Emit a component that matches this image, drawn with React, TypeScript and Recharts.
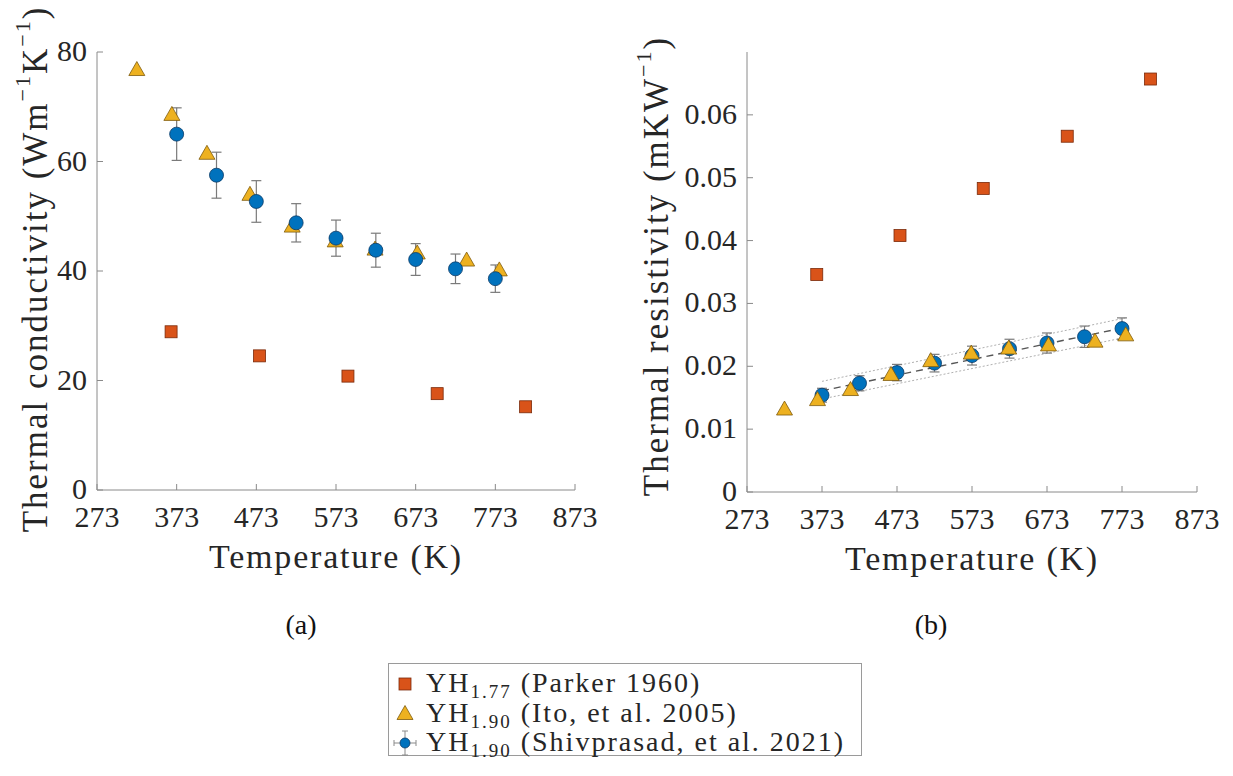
import React from "react";
import { ComposedChart, Scatter, Line, XAxis, YAxis, ErrorBar } from "recharts";

// axis ticks
const tempTicks = [273, 373, 473, 573, 673, 773, 873];
const condTicks = [0, 20, 40, 60, 80];
const resTicks = [0, 0.01, 0.02, 0.03, 0.04, 0.05, 0.06];

// YH1.77 (Parker 1960)
const parkerT = [366, 477, 588, 700, 811];
const parkerCond = [28.9, 24.5, 20.8, 17.6, 15.2];
const parkerRes = [0.0346, 0.0408, 0.0483, 0.0566, 0.0657];

// YH1.90 (Ito, et al. 2005)
const itoT = [323, 367, 411, 465, 518, 572, 622, 675, 737, 778];
const itoCond = [76.8, 68.6, 61.5, 54.0, 48.2, 45.5, 44.0, 43.3, 42.0, 40.2];
const itoRes = [0.0132, 0.0147, 0.0163, 0.0187, 0.0209, 0.0221, 0.0229, 0.0234, 0.024, 0.025];

// YH1.90 (Shivprasad, et al. 2021)
const shivT = [373, 423, 473, 523, 573, 623, 673, 723, 773];
const shivCond = [65.0, 57.5, 52.7, 48.8, 46.0, 43.8, 42.1, 40.4, 38.6];
const shivCondErr = [4.8, 4.2, 3.8, 3.5, 3.3, 3.1, 2.9, 2.7, 2.5];
const shivRes = [0.0154, 0.0173, 0.019, 0.0205, 0.0217, 0.0228, 0.0237, 0.0247, 0.026];
const shivResErr = [0.0011, 0.0012, 0.0013, 0.0014, 0.0015, 0.0015, 0.0016, 0.0017, 0.0017];

// linear fit of resistivity with its bounds
const fitT = [373, 778];
const fitRes = [0.0161, 0.0262];
const fitUpper = [0.0176, 0.0277];
const fitLower = [0.0148, 0.0246];

const ORANGE = "#D95319";
const YELLOW = "#EDB120";
const BLUE = "#0072BD";
const AXIS = "#8a8a8a";
const TEXT = "#262626";
const FONT = "Liberation Serif, Times New Roman, serif";

const pts = (xs: number[], ys: number[], es?: number[]) =>
  xs.map((x, i) => ({ x, y: ys[i], e: es ? es[i] : 0 }));

const Square = (p: any) => (
  <rect x={p.cx - 6} y={p.cy - 6} width={12} height={12} fill={ORANGE} stroke="#7a2a0a" strokeWidth={0.8} />
);
const Triangle = (p: any) => (
  <polygon
    points={`${p.cx},${p.cy - 8} ${p.cx - 8},${p.cy + 6} ${p.cx + 8},${p.cy + 6}`}
    fill={YELLOW}
    stroke="#7d5a0c"
    strokeWidth={0.8}
  />
);
const Circle = (p: any) => <circle cx={p.cx} cy={p.cy} r={7} fill={BLUE} stroke="#0b3a66" strokeWidth={0.8} />;
const Nothing = () => <g />;

const BottomTick = (p: any) => (
  <g>
    <line x1={p.x} x2={p.x} y1={p.y} y2={p.y - 6} stroke={AXIS} />
    <text x={p.x} y={p.y + 37} textAnchor="middle" fontFamily={FONT} fontSize={30} fill={TEXT}>
      {p.payload.value}
    </text>
  </g>
);
const TopTick = (p: any) => <line x1={p.x} x2={p.x} y1={p.y} y2={p.y + 6} stroke={AXIS} />;
const RightTick = (p: any) => <line x1={p.x} x2={p.x - 6} y1={p.y} y2={p.y} stroke={AXIS} />;
const makeLeftTick = (fmt: (v: number) => string) => (p: any) =>
  (
    <g>
      <line x1={p.x} x2={p.x + 6} y1={p.y} y2={p.y} stroke={AXIS} />
      <text x={p.x - 10} y={p.y + 9} textAnchor="end" fontFamily={FONT} fontSize={30} fill={TEXT}>
        {fmt(p.payload.value)}
      </text>
    </g>
  );

const TempTitle = (p: any) => {
  const vb = p.viewBox;
  return (
    <text
      x={vb.x + vb.width / 2}
      y={vb.y + 78}
      textAnchor="middle"
      fontFamily={FONT}
      fontSize={34}
      letterSpacing={1.8}
      fill={TEXT}
    >
      Temperature (K)
    </text>
  );
};

const VTitle = (p: any) => {
  const vb = p.viewBox;
  const cx = vb.x + p.dx;
  const cy = vb.y + vb.height / 2 + (p.dy || 0);
  return (
    <text
      x={cx}
      y={cy}
      transform={`rotate(-90 ${cx} ${cy})`}
      textAnchor="middle"
      dominantBaseline="central"
      fontFamily={FONT}
      fontSize={35}
      letterSpacing={2}
      fill={TEXT}
    >
      {p.children}
    </text>
  );
};

const SUP = 13;

const ConductivityChart = () => (
  <ComposedChart width={600} height={600} margin={{ top: 52, right: 25, bottom: 0, left: 0 }}>
    <XAxis
      dataKey="x"
      type="number"
      domain={[273, 873]}
      ticks={tempTicks}
      interval={0}
      height={110}
      tickSize={0}
      tickMargin={0}
      tickLine={false}
      axisLine={{ stroke: AXIS }}
      tick={BottomTick}
      label={<TempTitle />}
    />
    <XAxis
      xAxisId="top"
      orientation="top"
      type="number"
      domain={[273, 873]}
      ticks={tempTicks}
      interval={0}
      height={0}
      tickSize={0}
      tickMargin={0}
      tickLine={false}
      axisLine={{ stroke: AXIS }}
      tick={TopTick}
    />
    <YAxis
      dataKey="y"
      type="number"
      domain={[0, 80]}
      ticks={condTicks}
      interval={0}
      width={97}
      tickSize={0}
      tickMargin={0}
      tickLine={false}
      axisLine={{ stroke: AXIS }}
      tick={makeLeftTick((v) => String(v))}
      label={
        <VTitle dx={35} dy={-2}>
          Thermal conductivity (Wm
          <tspan dy={-SUP} fontSize={22}>−1</tspan>
          <tspan dy={SUP}>K</tspan>
          <tspan dy={-SUP} fontSize={22}>−1</tspan>
          <tspan dy={SUP}>)</tspan>
        </VTitle>
      }
    />
    <YAxis
      yAxisId="right"
      orientation="right"
      type="number"
      domain={[0, 80]}
      ticks={condTicks}
      interval={0}
      width={0}
      tickSize={0}
      tickMargin={0}
      tickLine={false}
      axisLine={{ stroke: AXIS }}
      tick={RightTick}
    />
    <Scatter data={pts(parkerT, parkerCond)} dataKey="y" shape={Square} isAnimationActive={false} />
    <Scatter data={pts(itoT, itoCond)} dataKey="y" shape={Triangle} isAnimationActive={false} />
    <Scatter data={pts(shivT, shivCond, shivCondErr)} dataKey="y" shape={Circle} isAnimationActive={false} />
    <Scatter data={pts(shivT, shivCond, shivCondErr)} dataKey="y" shape={Nothing} isAnimationActive={false}>
      <ErrorBar dataKey="e" direction="y" width={5} stroke="#7a7a7a" strokeWidth={1.2} />
    </Scatter>
  </ComposedChart>
);

const ResistivityChart = () => (
  <ComposedChart width={605} height={600} margin={{ top: 52, right: 28, bottom: 0, left: 0 }}>
    <XAxis
      dataKey="x"
      type="number"
      domain={[273, 873]}
      ticks={tempTicks}
      interval={0}
      height={108}
      tickSize={0}
      tickMargin={0}
      tickLine={false}
      axisLine={{ stroke: AXIS }}
      tick={BottomTick}
      label={<TempTitle />}
    />
    <XAxis
      xAxisId="top"
      orientation="top"
      type="number"
      domain={[273, 873]}
      ticks={tempTicks}
      interval={0}
      height={0}
      tickSize={0}
      tickMargin={0}
      tickLine={false}
      axisLine={{ stroke: AXIS }}
      tick={TopTick}
    />
    <YAxis
      dataKey="y"
      type="number"
      domain={[0, 0.07]}
      ticks={resTicks}
      interval={0}
      width={127}
      tickSize={0}
      tickMargin={0}
      tickLine={false}
      axisLine={{ stroke: AXIS }}
      tick={makeLeftTick((v) => (v === 0 ? "0" : v.toFixed(2)))}
      label={
        <VTitle dx={36} dy={-6}>
          Thermal resistivity (mKW
          <tspan dy={-SUP} fontSize={22}>−1</tspan>
          <tspan dy={SUP}>)</tspan>
        </VTitle>
      }
    />
    <YAxis
      yAxisId="right"
      orientation="right"
      type="number"
      domain={[0, 0.07]}
      ticks={resTicks}
      interval={0}
      width={0}
      tickSize={0}
      tickMargin={0}
      tickLine={false}
      axisLine={{ stroke: AXIS }}
      tick={RightTick}
    />
    <Line data={pts(fitT, fitUpper)} dataKey="y" type="linear" stroke="#b0b0b0" strokeWidth={1} strokeDasharray="2 2" dot={false} isAnimationActive={false} />
    <Line data={pts(fitT, fitLower)} dataKey="y" type="linear" stroke="#b0b0b0" strokeWidth={1} strokeDasharray="2 2" dot={false} isAnimationActive={false} />
    <Line data={pts(fitT, fitRes)} dataKey="y" type="linear" stroke="#555" strokeWidth={1.4} strokeDasharray="7 5" dot={false} isAnimationActive={false} />
    <Scatter data={pts(parkerT, parkerRes)} dataKey="y" shape={Square} isAnimationActive={false} />
    <Scatter data={pts(shivT, shivRes, shivResErr)} dataKey="y" shape={Circle} isAnimationActive={false} />
    <Scatter data={pts(shivT, shivRes, shivResErr)} dataKey="y" shape={Nothing} isAnimationActive={false}>
      <ErrorBar dataKey="e" direction="y" width={5} stroke="#7a7a7a" strokeWidth={1.2} />
    </Scatter>
    <Scatter data={pts(itoT, itoRes)} dataKey="y" shape={Triangle} isAnimationActive={false} />
  </ComposedChart>
);

const legendRows = [
  { sub: "1.77", text: " (Parker 1960)", marker: "square" },
  { sub: "1.90", text: " (Ito, et al. 2005)", marker: "triangle" },
  { sub: "1.90", text: " (Shivprasad, et al. 2021)", marker: "circle" },
];

const LegendBox = () => (
  <div
    style={{
      position: "absolute",
      left: 388,
      top: 663,
      width: 474,
      height: 93,
      border: "1px solid #9a9a9a",
      boxSizing: "border-box",
      background: "#fff",
    }}
  >
    <svg width={472} height={91} style={{ overflow: "visible" }}>
      {legendRows.map((r, i) => {
        const cy = 20 + i * 29.5;
        const cx = 16;
        return (
          <g key={i}>
            {r.marker === "square" && <Square cx={cx} cy={cy} />}
            {r.marker === "triangle" && <Triangle cx={cx} cy={cy} />}
            {r.marker === "circle" && (
              <g>
                <line x1={cx - 11} x2={cx + 11} y1={cy} y2={cy} stroke="#8a8a8a" />
                <line x1={cx - 11} x2={cx - 11} y1={cy - 3} y2={cy + 3} stroke="#8a8a8a" />
                <line x1={cx + 11} x2={cx + 11} y1={cy - 3} y2={cy + 3} stroke="#8a8a8a" />
                <line x1={cx} x2={cx} y1={cy - 12} y2={cy + 12} stroke="#8a8a8a" />
                <line x1={cx - 3} x2={cx + 3} y1={cy - 12} y2={cy - 12} stroke="#8a8a8a" />
                <line x1={cx - 3} x2={cx + 3} y1={cy + 12} y2={cy + 12} stroke="#8a8a8a" />
                <circle cx={cx} cy={cy} r={5} fill={BLUE} stroke="#0b3a66" strokeWidth={0.8} />
              </g>
            )}
            <text x={37} y={cy + 8} fontFamily={FONT} fontSize={28} letterSpacing={2} fill={TEXT}>
              YH
              <tspan dy={6} fontSize={19}>
                {r.sub}
              </tspan>
              <tspan dy={-6}>{r.text}</tspan>
            </text>
          </g>
        );
      })}
    </svg>
  </div>
);

const captionStyle: React.CSSProperties = {
  position: "absolute",
  top: 607,
  width: 60,
  textAlign: "center",
  fontFamily: FONT,
  fontSize: 28,
  color: "#111",
  lineHeight: "36px",
};

const App = () => (
  <div style={{ position: "absolute", left: 0, top: 0, width: 1233, height: 776, background: "#fff" }}>
    <div style={{ position: "absolute", left: 0, top: 0 }}>
      <ConductivityChart />
    </div>
    <div style={{ position: "absolute", left: 620, top: 0 }}>
      <ResistivityChart />
    </div>
    <div style={{ ...captionStyle, left: 271 }}>(a)</div>
    <div style={{ ...captionStyle, left: 901 }}>(b)</div>
    <LegendBox />
  </div>
);

export default App;
